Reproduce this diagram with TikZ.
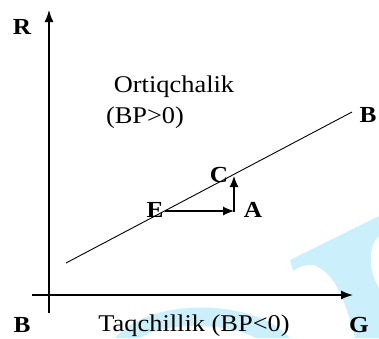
\documentclass[tikz,border=0pt]{standalone}
\usepackage{fontspec}
\setmainfont{Liberation Serif}
\usetikzlibrary{arrows.meta}
\definecolor{wm}{RGB}{204,239,252}
\tikzset{
  axis/.style={line width=1.3pt,-{Latex[length=12pt,width=9pt]}},
  vec/.style={line width=1.1pt,-{Latex[length=11pt,width=9pt]}},
  bl/.style={font=\fontsize{23}{23}\selectfont\bfseries,inner sep=0pt},
  tx/.style={font=\fontsize{24}{24}\selectfont,inner sep=0pt}
}
\newcommand{\hs}[1]{\scalebox{1.1}[1]{#1}}
\begin{document}
\begin{tikzpicture}[x=1pt,y=-1pt]
\useasboundingbox (0,0) rectangle (379,338);
% watermark
\fill[wm] (290,260) -- (379,216) -- (379,236) .. controls (368,246) and (368,270) .. (379,288) -- (379,338) -- (355,338) .. controls (345,300) and (335,272) .. (313,265) .. controls (305,264) and (298,267) .. (293,271) -- cycle;
\fill[wm] (115,338) .. controls (135,315) and (175,305) .. (215,308) .. controls (250,311) and (275,322) .. (290,338) -- (256,338) .. controls (240,330) and (220,326) .. (195,326) .. controls (170,326) and (150,331) .. (140,338) -- cycle;
% axes
\coordinate (ybot) at (49,313);
\coordinate (ytop) at (49,10);
\coordinate (xl) at (32,295);
\coordinate (xr) at (353,295);
\draw[axis] (ybot) -- (ytop);
\draw[axis] (xl) -- (xr);
% line
\coordinate (l1) at (66,263);
\coordinate (l2) at (352,112);
\draw[line width=0.9pt] (l1) -- (l2);
\coordinate (pe) at (165,211);
\coordinate (pa) at (234,211);
\coordinate (pc) at (234,176);
\draw[vec] (pe) -- (pa);
\draw[vec,shorten <=-0.5pt] (pa) -- (pc);
% labels
\node[bl] (R) at (22,27) {\hs{R}};
\node[bl] (B0) at (22,325) {\hs{B}};
\node[bl] (G) at (359,325) {\hs{G}};
\node[bl] (B1) at (368,115) {\hs{B}};
\node[bl] (C) at (219,175) {\hs{C}};
\node[bl] (E) at (155,210) {\hs{E}};
\node[bl] (A) at (253,210) {\hs{A}};
\node[tx] (ort) at (174,87) {\hs{Ortiqchalik}};
\node[tx] (bpp) at (145,118) {\hs{(BP>0)}};
\node[tx] (taq) at (194,326) {\hs{Taqchillik (BP<0)}};
\end{tikzpicture}
\end{document}
